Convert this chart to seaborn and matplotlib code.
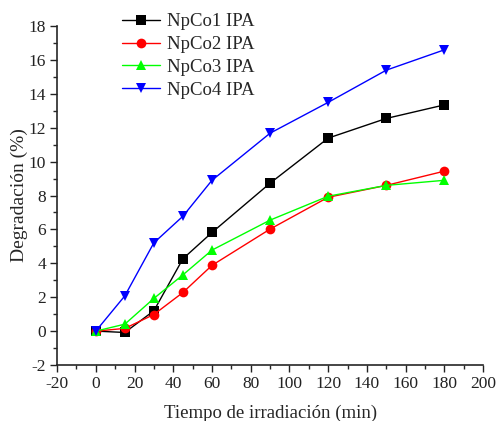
import matplotlib
matplotlib.use("Agg")
import matplotlib.pyplot as plt
from matplotlib.ticker import MultipleLocator
import pandas as pd
import seaborn as sns

tiempo = [0, 15, 30, 45, 60, 90, 120, 150, 180]
npco1 = [0.0, -0.08, 1.2, 4.27, 5.82, 8.73, 11.39, 12.55, 13.35]
npco2 = [0.0, 0.16, 0.98, 2.28, 3.88, 6.02, 7.9, 8.6, 9.44]
npco3 = [0.0, 0.41, 1.93, 3.32, 4.78, 6.55, 7.96, 8.6, 8.9]
npco4 = [0.0, 2.08, 5.21, 6.78, 8.9, 11.68, 13.5, 15.4, 16.6]
series = ["NpCo1 IPA", "NpCo2 IPA", "NpCo3 IPA", "NpCo4 IPA"]

df = pd.DataFrame({
    "t": tiempo * 4,
    "deg": npco1 + npco2 + npco3 + npco4,
    "serie": [s for s in series for _ in tiempo],
})

sns.set_style("ticks")
plt.rcParams["font.family"] = ["Liberation Serif", "DejaVu Serif"]
plt.rcParams["axes.unicode_minus"] = False

fig = plt.figure(figsize=(4.96, 4.21), dpi=100)
ax = fig.add_axes([0.115, 0.133, 0.859, 0.805])

colors = {"NpCo1 IPA": "black", "NpCo2 IPA": "red", "NpCo3 IPA": "#00ff00", "NpCo4 IPA": "blue"}
markers = {"NpCo1 IPA": "s", "NpCo2 IPA": "o", "NpCo3 IPA": "^", "NpCo4 IPA": "v"}

sns.lineplot(data=df, x="t", y="deg", hue="serie", style="serie",
             palette=colors, markers=markers, dashes=False,
             markersize=7, markeredgewidth=0, linewidth=1, ax=ax)

ax.set_xlim(-20, 200)
ax.set_ylim(-2, 18)
ax.xaxis.set_major_locator(MultipleLocator(20))
ax.xaxis.set_minor_locator(MultipleLocator(10))
ax.yaxis.set_major_locator(MultipleLocator(2))
ax.yaxis.set_minor_locator(MultipleLocator(1))
ax.tick_params(which="major", direction="out", length=5, width=1, labelsize=12.5,
               colors="#222222", pad=3)
ax.tick_params(which="minor", direction="out", length=3, width=1)
for s in ["top", "right"]:
    ax.spines[s].set_visible(False)
for s in ["left", "bottom"]:
    ax.spines[s].set_linewidth(1.2)

ax.set_xlabel("Tiempo de irradiación (min)", fontsize=13.5, labelpad=9)
ax.set_ylabel("Degradación (%)", fontsize=14, labelpad=0)

ax.legend(loc="upper left", bbox_to_anchor=(0.135, 1.06), frameon=False,
          fontsize=13.5, handlelength=2.0, handletextpad=0.4,
          labelspacing=0.3, borderaxespad=0)

fig.savefig("out.png", dpi=100)
